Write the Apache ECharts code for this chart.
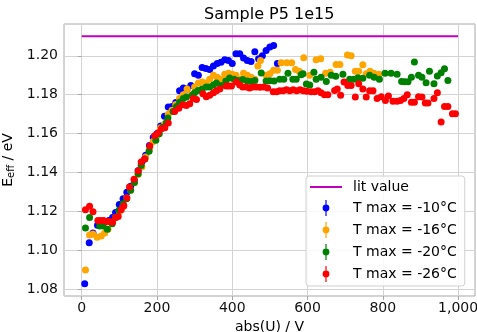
<!DOCTYPE html>
<html>
<head>
<meta charset="utf-8">
<script src="https://cdn.jsdelivr.net/npm/echarts@6/dist/echarts.min.js"></script>
<style>
  html, body { margin: 0; padding: 0; background: #fff; }
  #chart { width: 477px; height: 332px; }
</style>
</head>
<body>
<div id="chart"></div>
<script>
// data, [abs(U) in V, E_eff in eV]
var litValue = [[0, 1.21], [1000, 1.21]];

var blue10 = [[8,1.083],[20,1.104],[30,1.109],[42,1.113],[52,1.115],[62,1.115],[72,1.1155],[82,1.117],[90,1.1195],[100,1.1236],
    [110,1.1266],[120,1.130],[130,1.133],[140,1.136],[150,1.141],[160,1.1455],[170,1.149],[180,1.154],[190,1.158],[200,1.160],
    [210,1.164],[220,1.169],[230,1.1737],[240,1.174],[250,1.176],[260,1.182],[270,1.1834],[280,1.183],[290,1.1848],[300,1.1908],
    [310,1.190],[320,1.194],[330,1.1935],[340,1.193],[350,1.1947],[360,1.196],[370,1.1967],[380,1.198],[390,1.1976],[400,1.196],
    [410,1.201],[420,1.201],[430,1.1988],[440,1.1976],[450,1.197],[460,1.202],[470,1.1985],[480,1.200],[490,1.2027],[500,1.2045],
    [510,1.2053],[520,1.196]];

var orange16 = [[10,1.090],[21,1.108],[30,1.1085],[41,1.1068],[52,1.1075],[61,1.109],[70,1.111],[80,1.114],[90,1.117],[100,1.120],
    [110,1.1225],[120,1.127],[130,1.131],[140,1.135],[150,1.139],[160,1.143],[170,1.148],[180,1.152],[190,1.156],[200,1.159],
    [210,1.163],[220,1.165],[230,1.170],[240,1.172],[250,1.175],[260,1.178],[270,1.180],[280,1.183],[290,1.180],[300,1.184],
    [310,1.186],[320,1.1865],[330,1.186],[340,1.188],[350,1.190],[360,1.189],[370,1.188],[380,1.1905],[390,1.191],[400,1.1905],
    [410,1.190],[420,1.188],[430,1.191],[440,1.190],[450,1.189],[460,1.188],[468,1.1947],[475,1.1976],[490,1.190],[500,1.1908],
    [510,1.1925],[520,1.1925],[530,1.1964],[545,1.1964],[558,1.1964],[568,1.193],[578,1.192],[590,1.199],[606,1.190],[623,1.198],
    [635,1.1985],[648,1.191],[660,1.1916],[676,1.1955],[686,1.1955],[706,1.2004],[716,1.2000],[727,1.192],[736,1.192],[747,1.1954],
    [756,1.1908],[766,1.192],[776,1.191],[790,1.1905]];

var green20 = [[10,1.1116],[21,1.117],[48,1.1126],[57,1.1126],[68,1.111],[81,1.1138],[90,1.117],[99,1.1207],[110,1.124],[119,1.1266],
    [130,1.131],[140,1.135],[150,1.1395],[158,1.1437],[168,1.147],[179,1.151],[197,1.1566],[206,1.160],[216,1.1634],[225,1.1656],
    [229,1.168],[243,1.1714],[252,1.174],[260,1.1762],[270,1.178],[278,1.1788],[294,1.1797],[300,1.181],[309,1.1822],[320,1.183],
    [331,1.184],[340,1.184],[350,1.185],[358,1.186],[371,1.1848],[383,1.187],[393,1.1886],[405,1.188],[415,1.1873],[428,1.1878],
    [440,1.187],[451,1.1868],[460,1.1873],[477,1.1911],[490,1.187],[500,1.1872],[511,1.187],[526,1.188],[537,1.188],[548,1.191],
    [561,1.188],[570,1.188],[583,1.1903],[588,1.1908],[597,1.1855],[606,1.185],[617,1.1916],[623,1.188],[636,1.189],[650,1.1868],
    [663,1.190],[675,1.1895],[694,1.1905],[712,1.188],[723,1.188],[734,1.1887],[747,1.1885],[765,1.190],[777,1.189],[791,1.188],
    [806,1.191],[822,1.191],[838,1.1905],[850,1.1868],[858,1.1866],[867,1.1866],[876,1.189],[884,1.1968],[895,1.190],[904,1.189],
    [915,1.1861],[924,1.192],[936,1.1856],[945,1.1896],[955,1.1913],[964,1.1933],[973,1.1873]];

var red26 = [[10,1.121],[21,1.1227],[30,1.120],[43,1.1155],[50,1.1155],[58,1.1155],[66,1.115],[74,1.115],[82,1.1145],[90,1.117],
    [97,1.1175],[105,1.121],[112,1.123],[120,1.127],[127,1.1326],[139,1.1366],[150,1.141],[158,1.1455],[167,1.147],[181,1.1537],
    [194,1.159],[203,1.1605],[212,1.1626],[221,1.163],[230,1.1655],[247,1.1714],[258,1.173],[269,1.1749],[278,1.1745],[287,1.1754],
    [296,1.178],[305,1.1775],[322,1.1805],[331,1.179],[340,1.1797],[350,1.181],[358,1.182],[367,1.183],[384,1.1845],[391,1.1845],
    [398,1.1845],[411,1.1865],[420,1.185],[428,1.184],[437,1.184],[446,1.1835],[455,1.184],[464,1.184],[474,1.1838],[484,1.184],
    [494,1.1835],[509,1.1815],[518,1.1815],[526,1.182],[535,1.182],[544,1.1825],[553,1.182],[562,1.1825],[571,1.182],[580,1.1825],
    [589,1.182],[598,1.1818],[610,1.1815],[619,1.1815],[628,1.182],[636,1.181],[645,1.180],[654,1.180],[672,1.1822],[679,1.183],
    [688,1.1797],[697,1.1865],[707,1.1848],[716,1.1848],[727,1.1788],[736,1.1856],[747,1.183],[756,1.1788],[765,1.182],[774,1.182],
    [785,1.178],[796,1.179],[807,1.177],[815,1.1793],[827,1.1767],[838,1.1767],[847,1.177],[856,1.178],[865,1.180],[876,1.1762],
    [884,1.1762],[895,1.179],[904,1.1788],[913,1.1757],[920,1.1757],[936,1.178],[945,1.181],[955,1.166],[964,1.174],[973,1.174],
    [985,1.1702],[993,1.1702]];

var seriesNames = ['T max = -10°C', 'T max = -16°C', 'T max = -20°C', 'T max = -26°C'];
var seriesColors = ['#0000ff', '#ffa500', '#008000', '#ff0000'];
var seriesData = [blue10, orange16, green20, red26];

var font = 'DejaVu Sans';
// legend glyphs: flat line for the reference value, bar + dot for the errorbar series
var lineIcon = 'path://M0,7 L32,7 L32,9 L0,9 Z';
var errIcon = 'path://M4.4,0 L5.6,0 L5.6,16 L4.4,16 Z M5,4.6 A3.4,3.4 0 1 1 4.99,4.6 Z';

var chart = echarts.init(document.getElementById('chart'));

var series = [{
    name: 'lit value',
    type: 'line',
    data: litValue,
    symbol: 'none',
    lineStyle: { color: '#bf00bf', width: 2 },
    itemStyle: { color: '#bf00bf' },
    silent: true,
    z: 1
}];
seriesData.forEach(function (d, i) {
    series.push({
        name: seriesNames[i],
        type: 'scatter',
        data: d,
        symbolSize: 7,
        itemStyle: { color: seriesColors[i], opacity: 1 },
        z: 2 + i
    });
});

chart.setOption({
    animation: false,
    textStyle: { fontFamily: font },
    title: {
        text: 'Sample P5 1e15',
        left: 199,
        top: 2,
        textStyle: { fontFamily: font, fontSize: 16, fontWeight: 'normal', color: '#000' }
    },
    legend: {
        orient: 'vertical',
        left: 306,
        top: 176,
        padding: [4, 8, 4, 4],
        itemWidth: 32,
        itemHeight: 16,
        itemGap: 6,
        backgroundColor: 'rgba(255,255,255,0.85)',
        borderColor: '#d0d0d0',
        borderWidth: 1,
        borderRadius: 3,
        textStyle: { fontFamily: font, fontSize: 14, color: '#000', padding: [0, 0, 0, 6] },
        data: [
            { name: 'lit value', icon: lineIcon },
            { name: seriesNames[0], icon: errIcon },
            { name: seriesNames[1], icon: errIcon },
            { name: seriesNames[2], icon: errIcon },
            { name: seriesNames[3], icon: errIcon }
        ]
    },
    grid: {
        left: 64,
        right: 2,
        top: 24,
        bottom: 36,
        containLabel: false,
        outerBoundsMode: 'none',
        show: true,
        borderColor: '#a8a8a8',
        borderWidth: 1
    },
    xAxis: {
        type: 'value',
        min: -47,
        max: 1045,
        splitNumber: 6,
        name: 'abs(U) / V',
        nameLocation: 'middle',
        nameGap: 16,
        nameTextStyle: { fontFamily: font, fontSize: 14, color: '#000' },
        axisLine: { show: false },
        axisTick: { show: true, length: 4, lineStyle: { color: '#a8a8a8' } },
        axisLabel: { fontFamily: font, fontSize: 14, color: '#111', margin: 5, showMinLabel: false, showMaxLabel: false },
        splitLine: { show: true, lineStyle: { color: '#d3d3d3', width: 1 } }
    },
    yAxis: {
        type: 'value',
        min: 1.0767,
        max: 1.2163,
        splitNumber: 7,
        name: '{a|E}{b|eff}{a| / eV}',
        nameLocation: 'middle',
        nameGap: 31,
        nameRotate: 90,
        nameTextStyle: {
            fontFamily: font, color: '#000',
            rich: {
                a: { fontFamily: font, fontSize: 14, lineHeight: 16, color: '#000' },
                b: { fontFamily: font, fontSize: 10, lineHeight: 10, verticalAlign: 'bottom', color: '#000' }
            }
        },
        axisLine: { show: false },
        axisTick: { show: true, length: 4, lineStyle: { color: '#a8a8a8' } },
        axisLabel: {
            fontFamily: font, fontSize: 14, color: '#111', margin: 6,
            showMinLabel: false, showMaxLabel: false,
            formatter: function (v) { return v.toFixed(2); }
        },
        splitLine: { show: true, lineStyle: { color: '#d3d3d3', width: 1 } }
    },
    series: series
});
</script>
</body>
</html>
